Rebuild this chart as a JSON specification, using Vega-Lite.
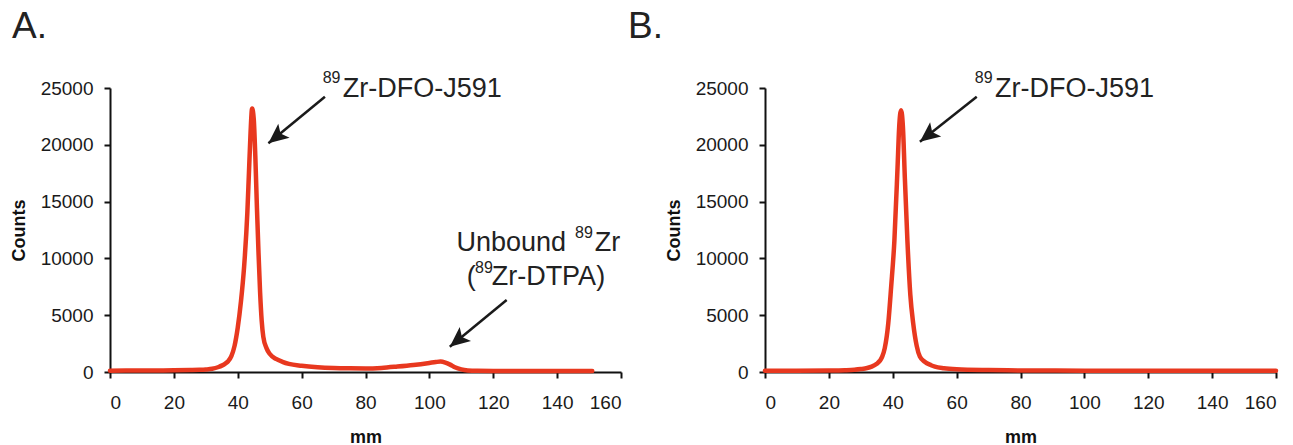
{
  "$schema": "https://vega.github.io/schema/vega-lite/v6.json",
  "background": "white",
  "padding": {"left": 10, "top": 8, "right": 0, "bottom": 0},
  "bounds": "flush",
  "spacing": 144,
  "config": {
    "view": {"stroke": null},
    "font": "Liberation Sans",
    "axis": {
      "grid": false,
      "domainColor": "#111111",
      "domainWidth": 2,
      "tickColor": "#111111",
      "tickWidth": 2,
      "tickSize": 6,
      "labelFont": "Liberation Sans",
      "labelFontSize": 19,
      "labelColor": "#1a1a1a",
      "titleFont": "Liberation Sans",
      "titleFontSize": 18,
      "titleFontWeight": "bold",
      "titleColor": "#111111",
      "format": "d"
    },
    "title": {"font": "Liberation Sans", "fontSize": 37, "fontWeight": "normal", "color": "#222222", "anchor": "start", "frame": "group"}
  },
  "hconcat": [
    {
      "width": 511,
      "height": 284,
      "title": {"text": "A.", "dx": -98, "offset": 24},
      "encoding": {
        "x": {"field": "mm", "type": "quantitative", "scale": {"domain": [0, 160], "nice": false},
              "axis": {"values": [0, 20, 40, 60, 80, 100, 120, 140, 160], "labelPadding": 15, "titlePadding": 16, "title": "mm"}},
        "y": {"field": "counts", "type": "quantitative", "scale": {"domain": [0, 25000], "nice": false},
              "axis": {"values": [0, 5000, 10000, 15000, 20000, 25000], "labelPadding": 11, "titlePadding": 12, "title": "Counts"}}
      },
      "layer": [
        {
          "data": {"values": [
            {"mm": 0, "counts": 120}, {"mm": 5, "counts": 125}, {"mm": 10, "counts": 130}, {"mm": 15, "counts": 140},
            {"mm": 20, "counts": 150}, {"mm": 25, "counts": 170}, {"mm": 28, "counts": 190}, {"mm": 30, "counts": 220},
            {"mm": 32, "counts": 280}, {"mm": 34, "counts": 440}, {"mm": 35, "counts": 560}, {"mm": 36, "counts": 720},
            {"mm": 37, "counts": 950}, {"mm": 38, "counts": 1400}, {"mm": 39, "counts": 2300}, {"mm": 40, "counts": 3900},
            {"mm": 41, "counts": 6200}, {"mm": 42, "counts": 9300}, {"mm": 43, "counts": 14000}, {"mm": 43.5, "counts": 17500},
            {"mm": 44, "counts": 21000}, {"mm": 44.5, "counts": 23200}, {"mm": 45, "counts": 22300}, {"mm": 45.5, "counts": 19000},
            {"mm": 46, "counts": 14500}, {"mm": 46.5, "counts": 10500}, {"mm": 47, "counts": 7000}, {"mm": 47.5, "counts": 4500},
            {"mm": 48, "counts": 3100}, {"mm": 49, "counts": 2100}, {"mm": 50, "counts": 1600}, {"mm": 52, "counts": 1150},
            {"mm": 54, "counts": 900}, {"mm": 56, "counts": 720}, {"mm": 60, "counts": 550}, {"mm": 65, "counts": 420},
            {"mm": 70, "counts": 350}, {"mm": 75, "counts": 320}, {"mm": 80, "counts": 310}, {"mm": 85, "counts": 360},
            {"mm": 90, "counts": 480}, {"mm": 95, "counts": 620}, {"mm": 100, "counts": 800}, {"mm": 102, "counts": 880},
            {"mm": 103.5, "counts": 920}, {"mm": 105, "counts": 830}, {"mm": 106.5, "counts": 650}, {"mm": 108, "counts": 420},
            {"mm": 110, "counts": 230}, {"mm": 112, "counts": 140}, {"mm": 115, "counts": 100}, {"mm": 120, "counts": 90},
            {"mm": 130, "counts": 85}, {"mm": 140, "counts": 85}, {"mm": 151, "counts": 85}
          ]},
          "mark": {"type": "line", "color": "#E8381F", "strokeWidth": 4.5, "interpolate": "monotone", "strokeCap": "round", "strokeJoin": "round"}
        },
        {
          "data": {"values": [
            {"mm": 49.6, "counts": 20132, "mm2": 67.3, "counts2": 24235},
            {"mm": 106.4, "counts": 2227, "mm2": 124.2, "counts2": 6338}
          ]},
          "mark": {"type": "rule", "color": "#1a1a1a", "strokeWidth": 2.5},
          "encoding": {"x2": {"field": "mm2"}, "y2": {"field": "counts2"}}
        },
        {
          "data": {"values": [
            {"mm": 49.6, "counts": 20132},
            {"mm": 106.4, "counts": 2227}
          ]},
          "mark": {"type": "point", "shape": "M0,0L0.45,1L0,0.78L-0.45,1Z", "size": 1600, "angle": 231, "filled": true, "color": "#1a1a1a", "opacity": 1}
        },
        {
          "data": {"values": [
            {"mm": 72.9, "counts": 24208, "label": "Zr-DFO-J591"},
            {"mm": 108.5, "counts": 10678, "label": "Unbound"},
            {"mm": 151.8, "counts": 10678, "label": "Zr"},
            {"mm": 111.7, "counts": 7659, "label": "("},
            {"mm": 119.5, "counts": 7659, "label": "Zr-DTPA)"}
          ]},
          "mark": {"type": "text", "align": "left", "baseline": "alphabetic", "fontSize": 27, "font": "Liberation Sans", "color": "#222222"},
          "encoding": {"text": {"field": "label"}}
        },
        {
          "data": {"values": [
            {"mm": 66.6, "counts": 25440, "label": "89"},
            {"mm": 145.6, "counts": 11796, "label": "89"},
            {"mm": 114.3, "counts": 8715, "label": "89"}
          ]},
          "mark": {"type": "text", "align": "left", "baseline": "alphabetic", "fontSize": 16, "font": "Liberation Sans", "color": "#222222"},
          "encoding": {"text": {"field": "label"}}
        }
      ]
    },
    {
      "width": 511,
      "height": 284,
      "title": {"text": "B.", "dx": -137, "offset": 24},
      "encoding": {
        "x": {"field": "mm", "type": "quantitative", "scale": {"domain": [0, 160], "nice": false},
              "axis": {"values": [0, 20, 40, 60, 80, 100, 120, 140, 160], "labelPadding": 15, "titlePadding": 16, "title": "mm"}},
        "y": {"field": "counts", "type": "quantitative", "scale": {"domain": [0, 25000], "nice": false},
              "axis": {"values": [0, 5000, 10000, 15000, 20000, 25000], "labelPadding": 11, "titlePadding": 12, "title": "Counts"}}
      },
      "layer": [
        {
          "data": {"values": [
            {"mm": 0, "counts": 110}, {"mm": 10, "counts": 120}, {"mm": 20, "counts": 135}, {"mm": 25, "counts": 160},
            {"mm": 28, "counts": 200}, {"mm": 30, "counts": 260}, {"mm": 32, "counts": 350}, {"mm": 33.4, "counts": 470},
            {"mm": 35, "counts": 720}, {"mm": 36, "counts": 1000}, {"mm": 36.7, "counts": 1350}, {"mm": 37.5, "counts": 2100},
            {"mm": 38.6, "counts": 4290}, {"mm": 39.5, "counts": 7500}, {"mm": 40.5, "counts": 11500}, {"mm": 41.5, "counts": 18000},
            {"mm": 42, "counts": 21500}, {"mm": 42.6, "counts": 23050}, {"mm": 43.2, "counts": 21500}, {"mm": 43.8, "counts": 17000},
            {"mm": 44.6, "counts": 11500}, {"mm": 45.5, "counts": 6800}, {"mm": 46.4, "counts": 4290}, {"mm": 47.5, "counts": 2300},
            {"mm": 48.5, "counts": 1350}, {"mm": 50, "counts": 900}, {"mm": 52, "counts": 600}, {"mm": 53.2, "counts": 470},
            {"mm": 56, "counts": 330}, {"mm": 60, "counts": 240}, {"mm": 70, "counts": 170}, {"mm": 80, "counts": 140},
            {"mm": 100, "counts": 120}, {"mm": 120, "counts": 110}, {"mm": 140, "counts": 105}, {"mm": 160, "counts": 100}
          ]},
          "mark": {"type": "line", "color": "#E8381F", "strokeWidth": 4.5, "interpolate": "monotone", "strokeCap": "round", "strokeJoin": "round"}
        },
        {
          "data": {"values": [
            {"mm": 48.5, "counts": 20273, "mm2": 66.3, "counts2": 24235}
          ]},
          "mark": {"type": "rule", "color": "#1a1a1a", "strokeWidth": 2.5},
          "encoding": {"x2": {"field": "mm2"}, "y2": {"field": "counts2"}}
        },
        {
          "data": {"values": [
            {"mm": 48.5, "counts": 20273}
          ]},
          "mark": {"type": "point", "shape": "M0,0L0.45,1L0,0.78L-0.45,1Z", "size": 1600, "angle": 232, "filled": true, "color": "#1a1a1a", "opacity": 1}
        },
        {
          "data": {"values": [
            {"mm": 72.0, "counts": 24235, "label": "Zr-DFO-J591"}
          ]},
          "mark": {"type": "text", "align": "left", "baseline": "alphabetic", "fontSize": 27, "font": "Liberation Sans", "color": "#222222"},
          "encoding": {"text": {"field": "label"}}
        },
        {
          "data": {"values": [
            {"mm": 65.7, "counts": 25414, "label": "89"}
          ]},
          "mark": {"type": "text", "align": "left", "baseline": "alphabetic", "fontSize": 16, "font": "Liberation Sans", "color": "#222222"},
          "encoding": {"text": {"field": "label"}}
        }
      ]
    }
  ]
}
